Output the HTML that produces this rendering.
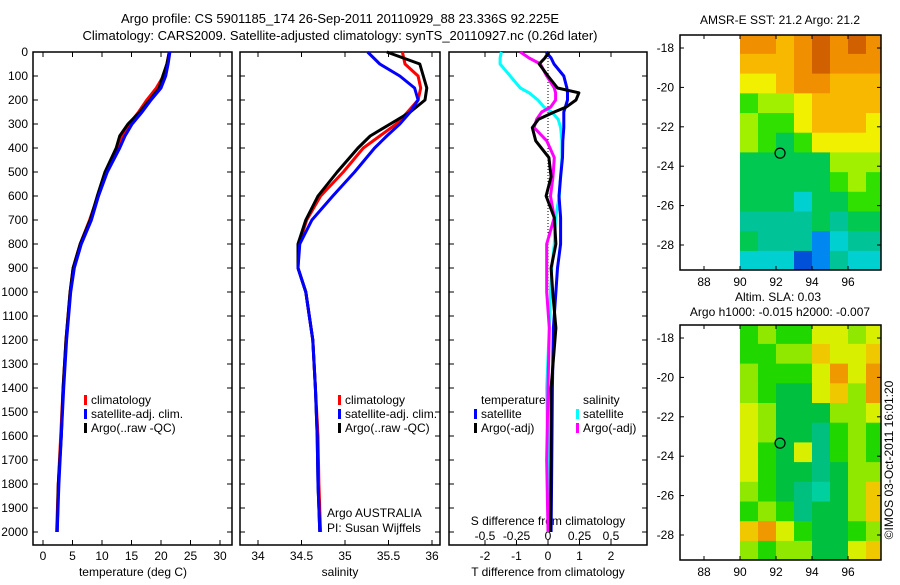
<!DOCTYPE html>
<html><head><meta charset="utf-8"><style>
body{margin:0;background:#fff}
svg{font-family:"Liberation Sans",sans-serif;font-size:12px}
</style></head><body>
<svg id="c" width="900" height="580" viewBox="0 0 900 580" xmlns="http://www.w3.org/2000/svg">
<defs>
<clipPath id="clip1"><rect x="680" y="35" width="201" height="235"/></clipPath>
<clipPath id="clip2"><rect x="680" y="325" width="201" height="235"/></clipPath>
</defs>
<text x="340" y="23" text-anchor="middle" font-size="13">Argo profile: CS 5901185_174 26-Sep-2011 20110929_88 23.336S 92.225E</text>
<text x="340" y="40" text-anchor="middle" font-size="13">Climatology: CARS2009. Satellite-adjusted climatology: synTS_20110927.nc (0.26d later)</text>
<text x="133" y="576" text-anchor="middle">temperature (deg C)</text>
<text x="340" y="576" text-anchor="middle">salinity</text>
<text x="548" y="576" text-anchor="middle">T difference from climatology</text>
<text x="548" y="525" text-anchor="middle">S difference from climatology</text>
<text x="327" y="517">Argo AUSTRALIA</text>
<text x="327" y="532">PI: Susan Wijffels</text>
<text x="780" y="24" text-anchor="middle">AMSR-E SST: 21.2 Argo: 21.2</text>
<text x="778" y="301" text-anchor="middle">Altim. SLA: 0.03</text>
<text x="780" y="316" text-anchor="middle">Argo h1000: -0.015 h2000: -0.007</text>
<text transform="translate(893,460) rotate(-90)" text-anchor="middle">©IMOS 03-Oct-2011 16:01:20</text>
</svg>
<script>
// ---- data ----
const depths=[0,50,100,150,200,250,300,350,400,500,600,700,800,900,1000,1200,1400,1600,1800,2000];
const tArgo=[21.4,21.0,20.3,19.7,18.1,16.4,14.4,13.0,12.4,10.5,9.2,8.0,6.3,5.1,4.6,3.9,3.4,3.1,2.6,2.4];
const tClim=[21.4,21.0,20.4,19.2,17.6,16.2,14.6,13.4,12.6,10.6,9.3,7.9,6.3,5.1,4.6,3.9,3.4,3.0,2.6,2.3];
const tSat=[21.5,21.2,20.8,20.0,18.3,16.8,15.1,13.9,13.0,10.9,9.4,8.2,6.5,5.3,4.7,4.0,3.5,3.1,2.7,2.4];
const sArgo=[35.48,35.86,35.90,35.94,35.92,35.75,35.52,35.29,35.15,34.91,34.69,34.55,34.46,34.46,34.55,34.63,34.66,34.68,34.69,34.71];
const sClim=[35.66,35.69,35.84,35.87,35.84,35.72,35.59,35.40,35.21,34.98,34.72,34.56,34.47,34.46,34.55,34.63,34.66,34.69,34.70,34.72];
const sSat=[35.26,35.40,35.63,35.80,35.84,35.75,35.63,35.48,35.34,35.11,34.86,34.62,34.48,34.46,34.55,34.63,34.66,34.68,34.69,34.71];
const dDepths=[0,25,50,100,150,170,200,230,250,280,315,370,440,520,600,690,800,900,1000,1150,1400,1700,2000];
const dtSat=[-0.06,0.1,0.19,0.5,0.6,0.62,0.62,0.55,0.5,0.5,0.5,0.47,0.46,0.4,0.35,0.4,0.4,0.3,0.25,0.17,0.14,0.12,0.1];
const dtArgo=[0.03,-0.1,-0.28,0,0.3,0.98,0.89,0.57,0.2,-0.3,-0.5,-0.39,0.03,0.1,-0.06,0.2,0.25,0.1,0.15,0.25,0.1,0.1,0.08];
const dsSat=[-0.37,-0.38,-0.38,-0.3,-0.22,-0.15,-0.08,-0.03,0.03,0.08,0.1,0.11,0.11,0.1,0.09,0.06,0.05,0.03,0.02,0.01,-0.01,0.0,0.0];
const dsArgo=[-0.22,-0.15,-0.06,-0.01,0.05,0.06,0.06,0.02,-0.05,-0.09,-0.11,-0.01,0.05,0.04,0.02,0.05,-0.01,-0.01,-0.01,0.01,0.0,-0.01,0.0];
const depthTicks=[0,100,200,300,400,500,600,700,800,900,1000,1100,1200,1300,1400,1500,1600,1700,1800,1900,2000];
const tTicks=[0,5,10,15,20,25,30];
const sTicks=[34,34.5,35,35.5,36];
const dtTicks=[-2,-1,0,1,2];
const dsTickLabels=["-0.5","-0.25","0","0.25","0.5"];
const dsTicks=[-0.5,-0.25,0,0.25,0.5];
const lonTicks=[88,90,92,94,96];
const latTicks=[-18,-20,-22,-24,-26,-28];
const sstGrid=[
[8,8,7,8,9,8,9,8],[7,7,7,8,9,8,8,8],[6,6,7,8,8,7,7,7],[4,5,5,6,7,7,7,7],
[5,4,4,6,7,7,7,6],[5,4,3,4,6,6,6,6],[3,3,3,3,3,5,5,5],[3,3,3,3,3,4,5,4],
[3,3,3,1,3,3,4,4],[2,2,2,2,3,2,3,3],[3,2,2,2,0,1,2,2],[1,1,1,-1,0,2,1,1]];
const slaGrid=[
[4,5,4,4,6,6,5,6],[4,4,5,5,7,6,6,7],[5,4,4,4,6,8,6,8],[5,4,3,3,6,7,5,8],
[6,5,3,3,3,5,5,6],[6,5,3,3,2,4,5,4],[6,4,3,6,2,4,5,4],[6,4,3,3,2,3,5,5],
[5,4,3,2,1,3,5,7],[4,5,4,2,3,3,5,7],[7,8,6,4,3,3,4,5],[5,4,5,5,3,3,6,7]];
const argoLon=92.225, argoLat=-23.336;

// ---- helpers ----
const svg=document.getElementById('c');
const NS='http://www.w3.org/2000/svg';
function mk(tag,attrs,parent){const e=document.createElementNS(NS,tag);for(const k in attrs)e.setAttribute(k,attrs[k]);(parent||svg).appendChild(e);return e;}
const Y=d=>52+d*0.24;
const xT=v=>43+v*5.9, xS=v=>258+(v-34)*87, xDT=v=>548+v*31.5, xDS=v=>548+v*126;
const TOP=52,BOT=545;

function panel(x0,x1,name){
  const r=mk('rect',{x:x0,y:TOP,width:x1-x0,height:BOT-TOP,fill:'none',stroke:'#000','stroke-width':1.5});
  
  
}
panel(33,232,'temperature-panel');
panel(240,440,'salinity-panel');
panel(449,647,'difference-panel');

depthTicks.forEach(d=>{
  const t=mk('text',{x:28,y:Y(d)+4,'text-anchor':'end'});t.textContent=d;
  
  
  [[33,38],[227,232],[240,245],[435,440],[449,454],[642,647]].forEach(p=>mk('line',{x1:p[0],x2:p[1],y1:Y(d),y2:Y(d),stroke:'#000'}));
});
function xticks(ticks,fx,labels,ly){
  ticks.forEach((v,i)=>{
    const x=fx(v);
    mk('line',{x1:x,x2:x,y1:TOP,y2:TOP+5,stroke:'#000'});
    mk('line',{x1:x,x2:x,y1:BOT-5,y2:BOT,stroke:'#000'});
    const t=mk('text',{x:x,y:ly,'text-anchor':'middle'});t.textContent=labels?labels[i]:v;
    
    
  });
}
xticks(tTicks,xT,null,560);
xticks(sTicks,xS,null,560);
xticks(dtTicks,xDT,null,560);
dsTicks.forEach((v,i)=>{const t=mk('text',{x:xDS(v),y:540,'text-anchor':'middle'});t.textContent=dsTickLabels[i];
  
  });

// zero line
const zl=mk('line',{x1:548,x2:548,y1:TOP,y2:Y(1000),stroke:'#000','stroke-dasharray':'1,2'});



function series(xs,ds,fx,color,name,w){
  const pts=xs.map((v,i)=>fx(v).toFixed(1)+','+Y(ds[i]).toFixed(1)).join(' ');
  const p=mk('polyline',{points:pts,fill:'none',stroke:color,'stroke-width':w||3,'stroke-linejoin':'round'});
  
  
}
series(tClim,depths,xT,'#f00','temp-climatology-line');
series(tArgo,depths,xT,'#000','temp-argo-line');
series(tSat,depths,xT,'#00f','temp-satellite-line');
series(sClim,depths,xS,'#f00','sal-climatology-line');
series(sArgo,depths,xS,'#000','sal-argo-line');
series(sSat,depths,xS,'#00f','sal-satellite-line');
series(dsSat,dDepths,xDS,'#0ff','ds-satellite-line');
series(dsArgo,dDepths,xDS,'#f0f','ds-argo-line');
series(dtSat,dDepths,xDT,'#00f','dt-satellite-line');
series(dtArgo,dDepths,xDT,'#000','dt-argo-line');

function legendItem(x,y,color,label){
  mk('rect',{x:x,y:y-9,width:3,height:10,fill:color});
  const t=mk('text',{x:x+7,y:y});t.textContent=label;
  
  
}
[[84,'#f00','climatology'],[84,'#00f','satellite-adj. clim.'],[84,'#000','Argo(..raw -QC)']].forEach((e,i)=>legendItem(e[0],404+i*14,e[1],e[2]));
[[338,'#f00','climatology'],[338,'#00f','satellite-adj. clim.'],[338,'#000','Argo(..raw -QC)']].forEach((e,i)=>legendItem(e[0],404+i*14,e[1],e[2]));
let lt=mk('text',{x:481,y:404});lt.textContent='temperature';


lt=mk('text',{x:583,y:404});lt.textContent='salinity';


legendItem(474,418,'#00f','satellite');legendItem(474,432,'#000','Argo(-adj)');
legendItem(576,418,'#0ff','satellite');legendItem(576,432,'#f0f','Argo(-adj)');

// maps
const sstColors={'-1':'#0050d8','0':'#0088f0','1':'#00d0d0','2':'#00c498','3':'#00c850','4':'#30e000','5':'#a0f000','6':'#f0f000','7':'#f8b800','8':'#f09000','9':'#d06000'};
const slaColors={'1':'#00d0a0','2':'#00c080','3':'#00c040','4':'#20d800','5':'#90e800','6':'#d8f000','7':'#f0c800','8':'#f09800'};
function map(top,grid,colors,name,clip){
  const lonX=l=>740+(l-90)*18, latY=l=>top+13+(-18-l)*19.7;
  const g=mk('g',{'clip-path':'url(#'+clip+')'});
  
  
  grid.forEach((row,r)=>row.forEach((v,c)=>{
    mk('rect',{x:lonX(90+c),y:latY(-17.3-r),width:18.5,height:20.2,fill:colors[v]},g);
  }));
  const bx=680,bw=201,bh=235;
  mk('rect',{x:bx,y:top,width:bw,height:bh,fill:'none',stroke:'#000','stroke-width':1.5});
  lonTicks.forEach(l=>{const x=lonX(l);mk('line',{x1:x,x2:x,y1:top,y2:top+4,stroke:'#000'});mk('line',{x1:x,x2:x,y1:top+bh-4,y2:top+bh,stroke:'#000'});
    const t=mk('text',{x:x,y:top+bh+16,'text-anchor':'middle'});t.textContent=l;
    
    });
  latTicks.forEach(l=>{const y=latY(l);mk('line',{x1:bx,x2:bx+4,y1:y,y2:y,stroke:'#000'});mk('line',{x1:bx+bw-4,x2:bx+bw,y1:y,y2:y,stroke:'#000'});
    const t=mk('text',{x:674,y:y+4,'text-anchor':'end'});t.textContent=l;
    
    });
  const m=mk('circle',{cx:lonX(argoLon),cy:latY(argoLat),r:5,fill:'none',stroke:'#000','stroke-width':1.2});
  
  
}
map(35,sstGrid,sstColors,'sst-map','clip1');
map(325,slaGrid,slaColors,'sla-map','clip2');
</script>
</body></html>
